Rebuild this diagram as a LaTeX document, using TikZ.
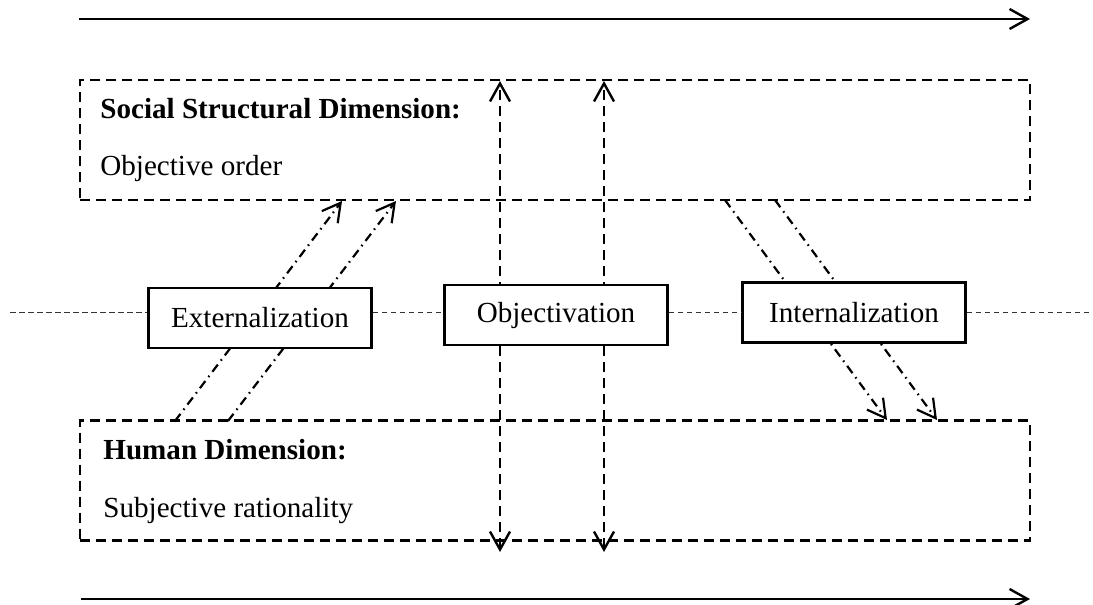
\documentclass[tikz,border=0pt]{standalone}
\usepackage{fontspec}
\setmainfont{Liberation Serif}
\usetikzlibrary{arrows.meta}
\tikzstyle{dimbox} = [rectangle, draw=black, line width=1.2pt, dash pattern=on 5pt off 3pt, minimum width=475pt, minimum height=60pt, inner sep=0pt]
\tikzstyle{process} = [rectangle, draw=black, fill=white, line width=1.3pt, minimum width=111.5pt, minimum height=30pt, text centered]
\tikzstyle{dimtext} = [anchor=base west, inner sep=0pt]
\tikzstyle{barb} = [>={Straight Barb[length=9pt,width=10pt]}]
\tikzstyle{timeline} = [barb, line width=1.2pt, ->]
\tikzstyle{flow} = [barb, line width=1.2pt, dash pattern=on 5pt off 3pt, <->]
\tikzstyle{moment} = [barb, line width=1.1pt, dash pattern=on 4.5pt off 2.5pt on 0.8pt off 2.5pt, ->]
\tikzstyle{divider} = [line width=0.5pt, dash pattern=on 2.75pt off 1.75pt, black!80]

\begin{document}
\begin{tikzpicture}[x=0.5pt, y=-0.5pt, font=\fontsize{14.55}{17}\selectfont]
\useasboundingbox (0,0) rectangle (1093,605);

% time lines
\coordinate (toptl) at (79,19);
\coordinate (toptr) at (1030,19);
\coordinate (bottl) at (81,599);
\coordinate (bottr) at (1030,599);
\draw [timeline] (toptl) -- (toptr);
\draw [timeline] (bottl) -- (bottr);

% the two dimensions
\node(social)[dimbox] at (555,140) {};
\node(human)[dimbox] at (555,480.5) {};
\node(socialtitle)[dimtext] at (100,118) {\textbf{Social Structural Dimension:}};
\node(socialsub)[dimtext] at (100,175) {Objective order};
\node(humantitle)[dimtext] at (103,459) {\textbf{Human Dimension:}};
\node(humansub)[dimtext] at (103,517) {Subjective rationality};

% end points of the flows
\coordinate (objat) at (500,81);
\coordinate (objab) at (500,552);
\coordinate (objbt) at (604,81);
\coordinate (objbb) at (604,552);
\coordinate (extas) at (175,421);
\coordinate (extae) at (342,201);
\coordinate (extbs) at (228,421);
\coordinate (extbe) at (396,201);
\coordinate (intas) at (725,200);
\coordinate (intae) at (887,420);
\coordinate (intbs) at (775,200);
\coordinate (intbe) at (937,420);

\draw [flow] (objab) -- (objat);
\draw [flow] (objbb) -- (objbt);
\draw [moment] (extas) -- (extae);
\draw [moment] (extbs) -- (extbe);
\draw [moment] (intas) -- (intae);
\draw [moment] (intbs) -- (intbe);

% the three moments
\node(ext)[process] at (260,318) {Externalization};
\node(obj)[process] at (556,315) {Objectivation};
\node(int)[process] at (854,312.5) {Internalization};

\coordinate (midl) at (10,312);
\coordinate (midr) at (1093,312);
\draw [divider] (midl) -- (midl -| ext.west);
\draw [divider] (ext.east |- midl) -- (obj.west |- midl);
\draw [divider] (obj.east |- midl) -- (int.west |- midl);
\draw [divider] (int.east |- midl) -- (midr);
\end{tikzpicture}
\end{document}
